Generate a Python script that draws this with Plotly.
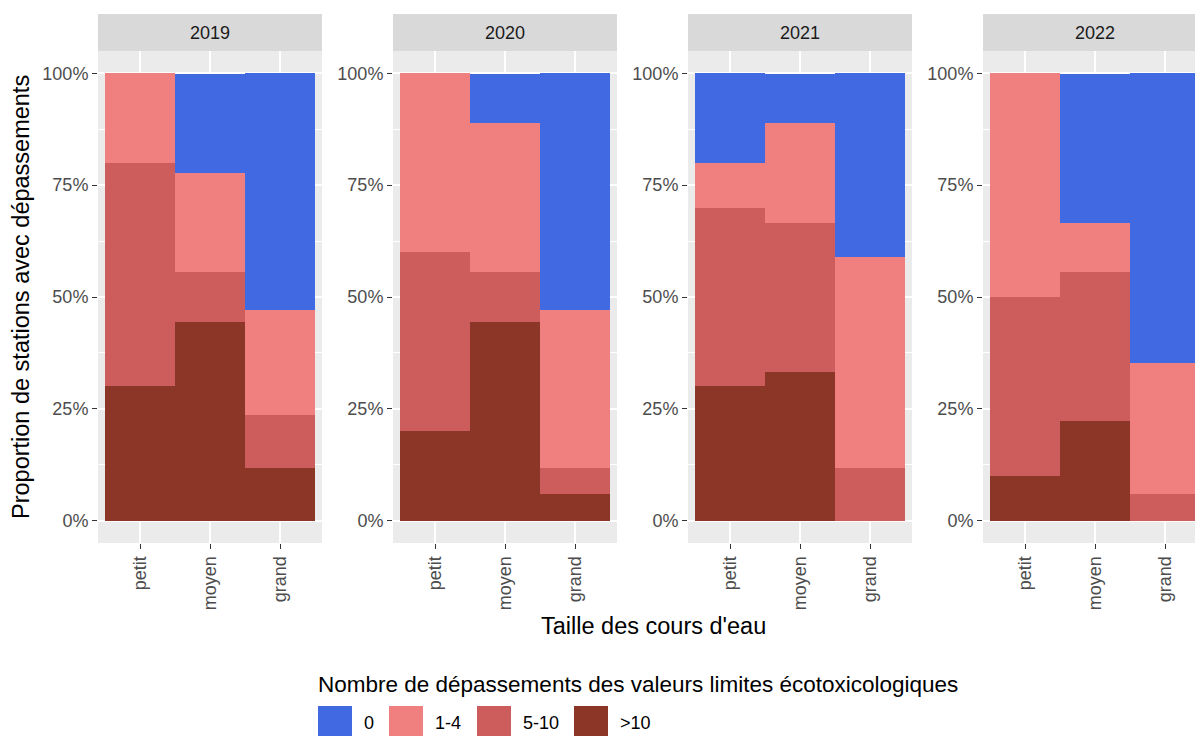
import plotly.graph_objects as go

# Stations by stream size and year: share of stations per number of exceedances
years = ["2019", "2020", "2021", "2022"]
sizes = ["petit", "moyen", "grand"]
classes = ["0", "1-4", "5-10", ">10"]
colors = {"0": "#4169E1", "1-4": "#F08080", "5-10": "#CD5C5C", ">10": "#8B3626"}

# one row per year, values in the order petit, moyen, grand
share_0 = [[0.000, 0.222, 0.529],
           [0.000, 0.111, 0.529],
           [0.200, 0.111, 0.412],
           [0.000, 0.333, 0.647]]
share_1_4 = [[0.200, 0.222, 0.235],
             [0.400, 0.333, 0.353],
             [0.100, 0.222, 0.471],
             [0.500, 0.111, 0.294]]
share_5_10 = [[0.500, 0.111, 0.118],
              [0.400, 0.111, 0.059],
              [0.400, 0.333, 0.118],
              [0.400, 0.333, 0.059]]
share_gt10 = [[0.300, 0.444, 0.118],
              [0.200, 0.444, 0.059],
              [0.300, 0.333, 0.000],
              [0.100, 0.222, 0.000]]
shares = {"0": share_0, "1-4": share_1_4, "5-10": share_5_10, ">10": share_gt10}

W, H = 1195, 736
FONT = "Liberation Sans, Arial, sans-serif"
TICK_SIZE = 18
TITLE_SIZE = 23.5
LEGEND_TITLE_SIZE = 22.5
panel_left = [98, 393, 688, 983]
panel_w = 224
unit = 70.0                      # pixels per category
panel_top, panel_bot = 51, 543
strip_top = 14

fig = go.Figure()

# stacking: first trace sits at the bottom
stack_order = [">10", "5-10", "1-4", "0"]
for i, yr in enumerate(years):
    ax = "" if i == 0 else str(i + 1)
    for cls in stack_order:
        fig.add_trace(go.Bar(
            x=list(range(len(sizes))),
            y=shares[cls][i],
            width=1.0,
            marker=dict(color=colors[cls], line=dict(width=0)),
            name=cls,
            showlegend=False,
            xaxis="x" + ax, yaxis="y" + ax,
            hovertemplate=yr + " %{x}: %{y:.0%}<extra>" + cls + "</extra>",
        ))

ydom = [1 - panel_bot / H, 1 - panel_top / H]
layout = dict(
    width=W, height=H,
    margin=dict(l=0, r=0, t=0, b=0),
    paper_bgcolor="white", plot_bgcolor="#EBEBEB",
    barmode="stack", bargap=0,
    font=dict(family=FONT, color="#4D4D4D"),
    showlegend=False,
)
for i, yr in enumerate(years):
    key = "" if i == 0 else str(i + 1)
    x0 = panel_left[i]
    x1 = min(x0 + panel_w, W)
    xmax = -0.6 + (x1 - x0) / unit
    layout["xaxis" + key] = dict(
        domain=[x0 / W, x1 / W], anchor="y" + key,
        range=[-0.6, xmax],
        tickvals=list(range(len(sizes))), ticktext=sizes,
        tickangle=-90, ticks="outside", ticklen=5, tickwidth=1.1,
        tickcolor="#333333", tickfont=dict(size=TICK_SIZE, color="#4D4D4D", family=FONT),
        showgrid=True, gridcolor="white", gridwidth=1.6,
        zeroline=False, showline=False, fixedrange=True,
    )
    layout["yaxis" + key] = dict(
        domain=ydom, anchor="x" + key,
        range=[-0.05, 1.05],
        tickvals=[0, 0.25, 0.5, 0.75, 1.0],
        ticktext=["0%", "25%", "50%", "75%", "100%"],
        ticks="outside", ticklen=5, tickwidth=1.1, tickcolor="#333333",
        tickfont=dict(size=TICK_SIZE, color="#4D4D4D", family=FONT),
        showgrid=True, gridcolor="white", gridwidth=1.6,
        minor=dict(dtick=0.125, tick0=0.125, showgrid=True,
                   gridcolor="white", gridwidth=0.8, ticks=""),
        zeroline=False, showline=False, fixedrange=True,
    )
fig.update_layout(**layout)

shapes = []
annotations = []
# facet strips
for i, yr in enumerate(years):
    x0 = panel_left[i]
    x1 = x0 + panel_w
    shapes.append(dict(type="rect", xref="paper", yref="paper",
                       x0=x0 / W, x1=min(x1, W) / W,
                       y0=1 - panel_top / H, y1=1 - strip_top / H,
                       fillcolor="#D9D9D9", line=dict(width=0), layer="below"))
    annotations.append(dict(xref="paper", yref="paper",
                            x=(x0 + x1) / 2 / W, y=1 - (strip_top + panel_top) / 2 / H,
                            text=yr, showarrow=False, xanchor="center", yanchor="middle",
                            font=dict(size=TICK_SIZE, color="#1A1A1A", family=FONT)))

# axis titles
annotations.append(dict(xref="paper", yref="paper", x=653 / W, y=1 - 626 / H,
                        text="Taille des cours d'eau", showarrow=False,
                        xanchor="center", yanchor="middle",
                        font=dict(size=TITLE_SIZE, color="black", family=FONT)))
annotations.append(dict(xref="paper", yref="paper", x=21 / W,
                        y=1 - (panel_top + panel_bot) / 2 / H,
                        text="Proportion de stations avec dépassements", showarrow=False,
                        textangle=-90, xanchor="center", yanchor="middle",
                        font=dict(size=TITLE_SIZE, color="black", family=FONT)))

# legend
annotations.append(dict(xref="paper", yref="paper", x=316 / W, y=1 - 684 / H,
                        text="Nombre de dépassements des valeurs limites écotoxicologiques",
                        showarrow=False, xanchor="left", yanchor="middle",
                        font=dict(size=LEGEND_TITLE_SIZE, color="black", family=FONT)))
key_x = [318, 389, 477, 574]
key_w, key_top, key_h = 34, 706, 33
for cls, kx in zip(classes, key_x):
    shapes.append(dict(type="rect", xref="paper", yref="paper",
                       x0=kx / W, x1=(kx + key_w) / W,
                       y0=max(0, 1 - (key_top + key_h) / H), y1=1 - key_top / H,
                       fillcolor=colors[cls], line=dict(width=0)))
    annotations.append(dict(xref="paper", yref="paper", x=(kx + key_w + 10) / W,
                            y=1 - (key_top + key_h / 2) / H, text=cls, showarrow=False,
                            xanchor="left", yanchor="middle",
                            font=dict(size=TICK_SIZE, color="black", family=FONT)))

fig.update_layout(shapes=shapes, annotations=annotations)
fig.write_html("out.html")
